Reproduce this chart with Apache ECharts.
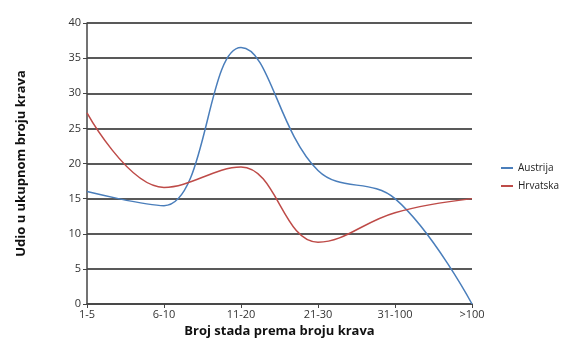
<!DOCTYPE html>
<html><head><meta charset="utf-8">
<script src="https://cdn.jsdelivr.net/npm/echarts@6/dist/echarts.min.js"></script>
<style>html,body{margin:0;padding:0;background:#fff}#c{width:580px;height:361px}</style>
</head><body><div id="c"></div>
<script>
const categories = ['1-5', '6-10', '11-20', '21-30', '31-100', '>100'];
const austrija = [16, 14, 36.5, 19, 15, 0];
const hrvatska = [27.2, 16.6, 19.5, 8.8, 13, 15];
const yTicks = {min: 0, max: 40, interval: 5};

const chart = echarts.init(document.getElementById('c'));
const font = 'Open Sans';
chart.setOption({
  animation: false,
  textStyle: {fontFamily: font},
  grid: {left: 87, right: 108, top: 23, bottom: 57},
  legend: {
    orient: 'vertical', left: 496, top: 158, itemWidth: 12, itemHeight: 2, itemGap: 8,
    icon: 'rect',
    textStyle: {fontSize: 10, color: '#222', fontFamily: font},
    data: ['Austrija', 'Hrvatska']
  },
  xAxis: {
    type: 'category', data: categories, boundaryGap: false,
    name: 'Broj stada prema broju krava', nameLocation: 'middle', nameGap: 21,
    nameTextStyle: {fontSize: 13, fontWeight: 'bold', color: '#111', fontFamily: font},
    axisLine: {lineStyle: {color: '#444', width: 1.5}},
    axisTick: {show: true, alignWithLabel: true, length: 4, lineStyle: {color: '#444'}},
    axisLabel: {fontSize: 11, color: '#333', margin: 5}
  },
  yAxis: {
    type: 'value', min: yTicks.min, max: yTicks.max, interval: yTicks.interval,
    name: 'Udio u ukupnom broju krava', nameLocation: 'middle', nameGap: 59, nameRotate: 90,
    nameTextStyle: {fontSize: 13, fontWeight: 'bold', color: '#111', fontFamily: font},
    axisLine: {show: true, lineStyle: {color: '#444', width: 1.5}},
    axisTick: {show: true, length: 4, lineStyle: {color: '#444'}},
    axisLabel: {fontSize: 11, color: '#333', margin: 6},
    splitLine: {lineStyle: {color: '#222', width: 1.5}}
  },
  series: [
    {name: 'Austrija', type: 'line', data: austrija, smooth: 0.4, symbol: 'none',
     lineStyle: {color: '#4a7ebb', width: 1.5}, itemStyle: {color: '#4a7ebb'}},
    {name: 'Hrvatska', type: 'line', data: hrvatska, smooth: 0.4, symbol: 'none',
     lineStyle: {color: '#be4b48', width: 1.5}, itemStyle: {color: '#be4b48'}}
  ]
});
</script></body></html>
